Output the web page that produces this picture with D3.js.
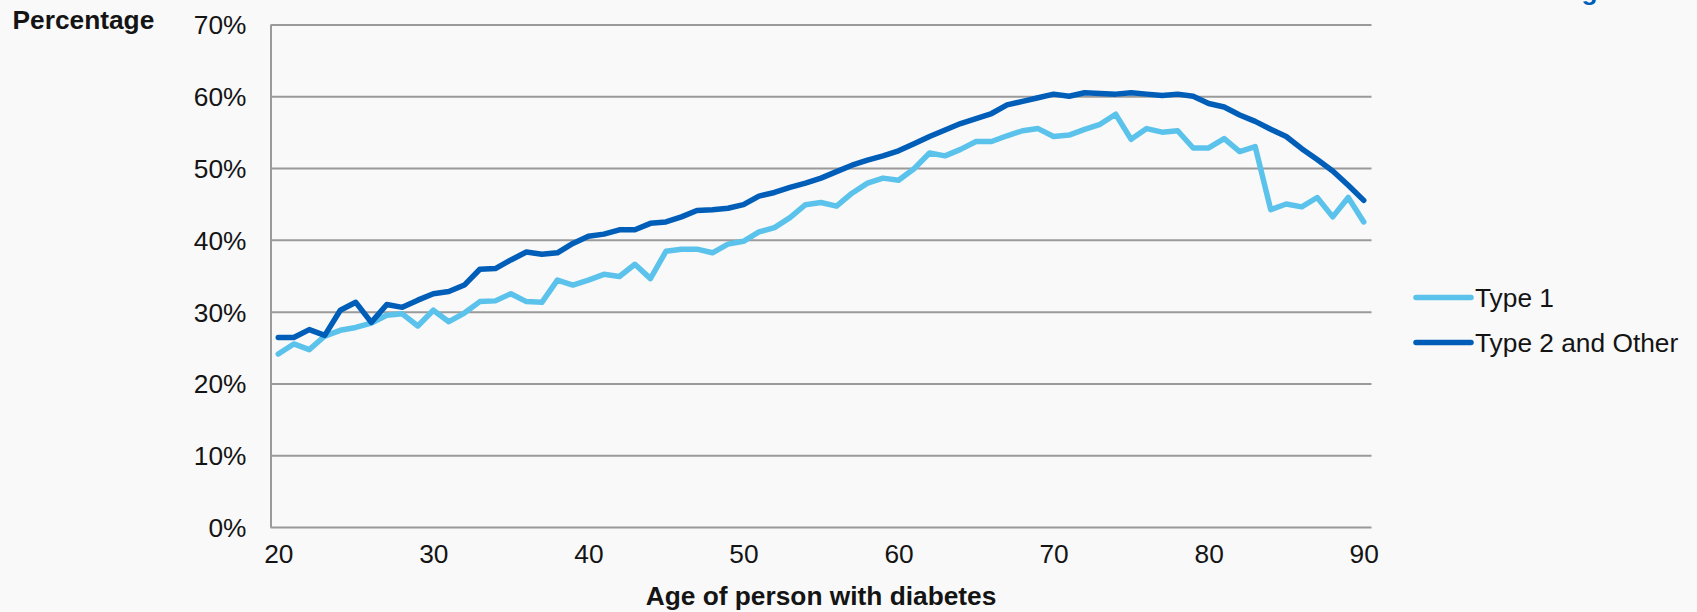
<!DOCTYPE html>
<html>
<head>
<meta charset="utf-8">
<script src="https://cdn.jsdelivr.net/npm/d3@7"></script>
<style>
  html, body { margin: 0; padding: 0; background: #f9f9f9; }
  svg { display: block; }
  text { font-family: "Liberation Sans", Arial, sans-serif; fill: #141414; }
</style>
</head>
<body>
<svg id="chart" width="1697" height="612"></svg>
<script>
// Ages of people with diabetes (x categories)
const ages = d3.range(20, 91);

// Share (%) by age for each diabetes type
const type1 = [
  24.1, 25.5, 24.7, 26.6, 27.4, 27.8, 28.4, 29.5, 29.7, 28.0,
  30.2, 28.6, 29.8, 31.4, 31.5, 32.5, 31.4, 31.3, 34.4, 33.7,
  34.4, 35.2, 34.9, 36.6, 34.6, 38.4, 38.7, 38.7, 38.2, 39.4,
  39.8, 41.1, 41.7, 43.1, 44.9, 45.2, 44.7, 46.5, 47.9, 48.6,
  48.3, 49.9, 52.1, 51.7, 52.6, 53.7, 53.7, 54.5, 55.2, 55.5,
  54.4, 54.6, 55.4, 56.1, 57.5, 54.0, 55.5, 55.0, 55.2, 52.8,
  52.8, 54.1, 52.3, 53.0, 44.2, 45.0, 44.6, 45.9, 43.2, 45.9,
  42.5
];
const type2Other = [
  26.4, 26.4, 27.5, 26.7, 30.2, 31.3, 28.5, 31.0, 30.6, 31.6,
  32.5, 32.8, 33.7, 35.9, 36.0, 37.2, 38.3, 38.0, 38.2, 39.5,
  40.5, 40.8, 41.4, 41.4, 42.3, 42.5, 43.2, 44.1, 44.2, 44.4,
  44.9, 46.1, 46.6, 47.3, 47.9, 48.6, 49.5, 50.4, 51.1, 51.7,
  52.4, 53.4, 54.4, 55.3, 56.2, 56.9, 57.6, 58.8, 59.3, 59.8,
  60.3, 60.0, 60.5, 60.4, 60.3, 60.5, 60.3, 60.1, 60.3, 60.0,
  59.0, 58.5, 57.4, 56.5, 55.4, 54.4, 52.7, 51.2, 49.6, 47.6,
  45.5
];

const seriesNames = ["Type 1", "Type 2 and Other"];
const seriesColors = ["#5BC3EB", "#005EB8"];
const xTickLabels = [20, 30, 40, 50, 60, 70, 80, 90];
const yTickLabels = [0, 0.1, 0.2, 0.3, 0.4, 0.5, 0.6, 0.7];

const svg = d3.select("#chart");
const plotLeft = 270.5, plotRight = 1371.5, plotTop = 24.5, plotBottom = 527;
const fontSize = 26.3;

const x = d3.scalePoint().domain(ages).range([plotLeft, plotRight]).padding(0.5);
const y = d3.scaleLinear().domain([0, 0.7]).range([plotBottom, plotTop]);

// Horizontal gridlines and the percentage labels
const yAxis = svg.append("g")
  .attr("transform", `translate(${plotLeft},0)`)
  .call(d3.axisLeft(y)
    .tickValues(yTickLabels)
    .tickFormat(d3.format(".0%"))
    .tickSizeInner(-(plotRight - plotLeft))
    .tickSizeOuter(0)
    .tickPadding(24));
yAxis.select(".domain").attr("stroke", "#9a9a9a").attr("stroke-width", 2);
yAxis.selectAll(".tick line").attr("stroke", "#9a9a9a").attr("stroke-width", 2);
yAxis.selectAll(".tick text")
  .attr("font-size", fontSize)
  .attr("dy", "0.36em");

// Age labels below the plot
const xAxis = svg.append("g")
  .attr("transform", `translate(0,${plotBottom})`)
  .call(d3.axisBottom(x)
    .tickValues(xTickLabels)
    .tickSize(0)
    .tickPadding(17.5));
xAxis.select(".domain").remove();
xAxis.selectAll(".tick text")
  .attr("font-size", fontSize);

[yAxis, xAxis].forEach(g => g.attr("font-family", null).attr("font-size", null));

// Series lines
const line = d3.line()
  .x((d, i) => x(ages[i]))
  .y(d => y(d / 100));

[type1, type2Other].forEach((vals, k) => {
  svg.append("path")
    .datum(vals)
    .attr("fill", "none")
    .attr("stroke", seriesColors[k])
    .attr("stroke-width", 5.5)
    .attr("stroke-linejoin", "round")
    .attr("stroke-linecap", "round")
    .attr("d", line);
});

// Axis titles
svg.append("text")
  .attr("x", 12.5).attr("y", 28.5)
  .attr("font-size", fontSize).attr("font-weight", "bold")
  .text("Percentage");

svg.append("text")
  .attr("x", (plotLeft + plotRight) / 2).attr("y", 604.5)
  .attr("text-anchor", "middle")
  .attr("font-size", fontSize).attr("font-weight", "bold")
  .text("Age of person with diabetes");

// Legend
const legend = svg.append("g").attr("transform", "translate(1416,0)");
const legendY = [297.5, 342.5];
seriesNames.forEach((name, k) => {
  legend.append("line")
    .attr("x1", 0).attr("x2", 55)
    .attr("y1", legendY[k]).attr("y2", legendY[k])
    .attr("stroke", seriesColors[k])
    .attr("stroke-width", 5.5)
    .attr("stroke-linecap", "round");
  legend.append("text")
    .attr("x", 59).attr("y", legendY[k])
    .attr("dy", "0.35em")
    .attr("font-size", fontSize)
    .text(name);
});

// Heading sitting above the visible area
svg.append("text")
  .attr("x", 1548).attr("y", -0.5)
  .attr("font-size", fontSize).attr("font-weight", "bold")
  .style("fill", "#005EB8")
  .text("England");
</script>
</body>
</html>
